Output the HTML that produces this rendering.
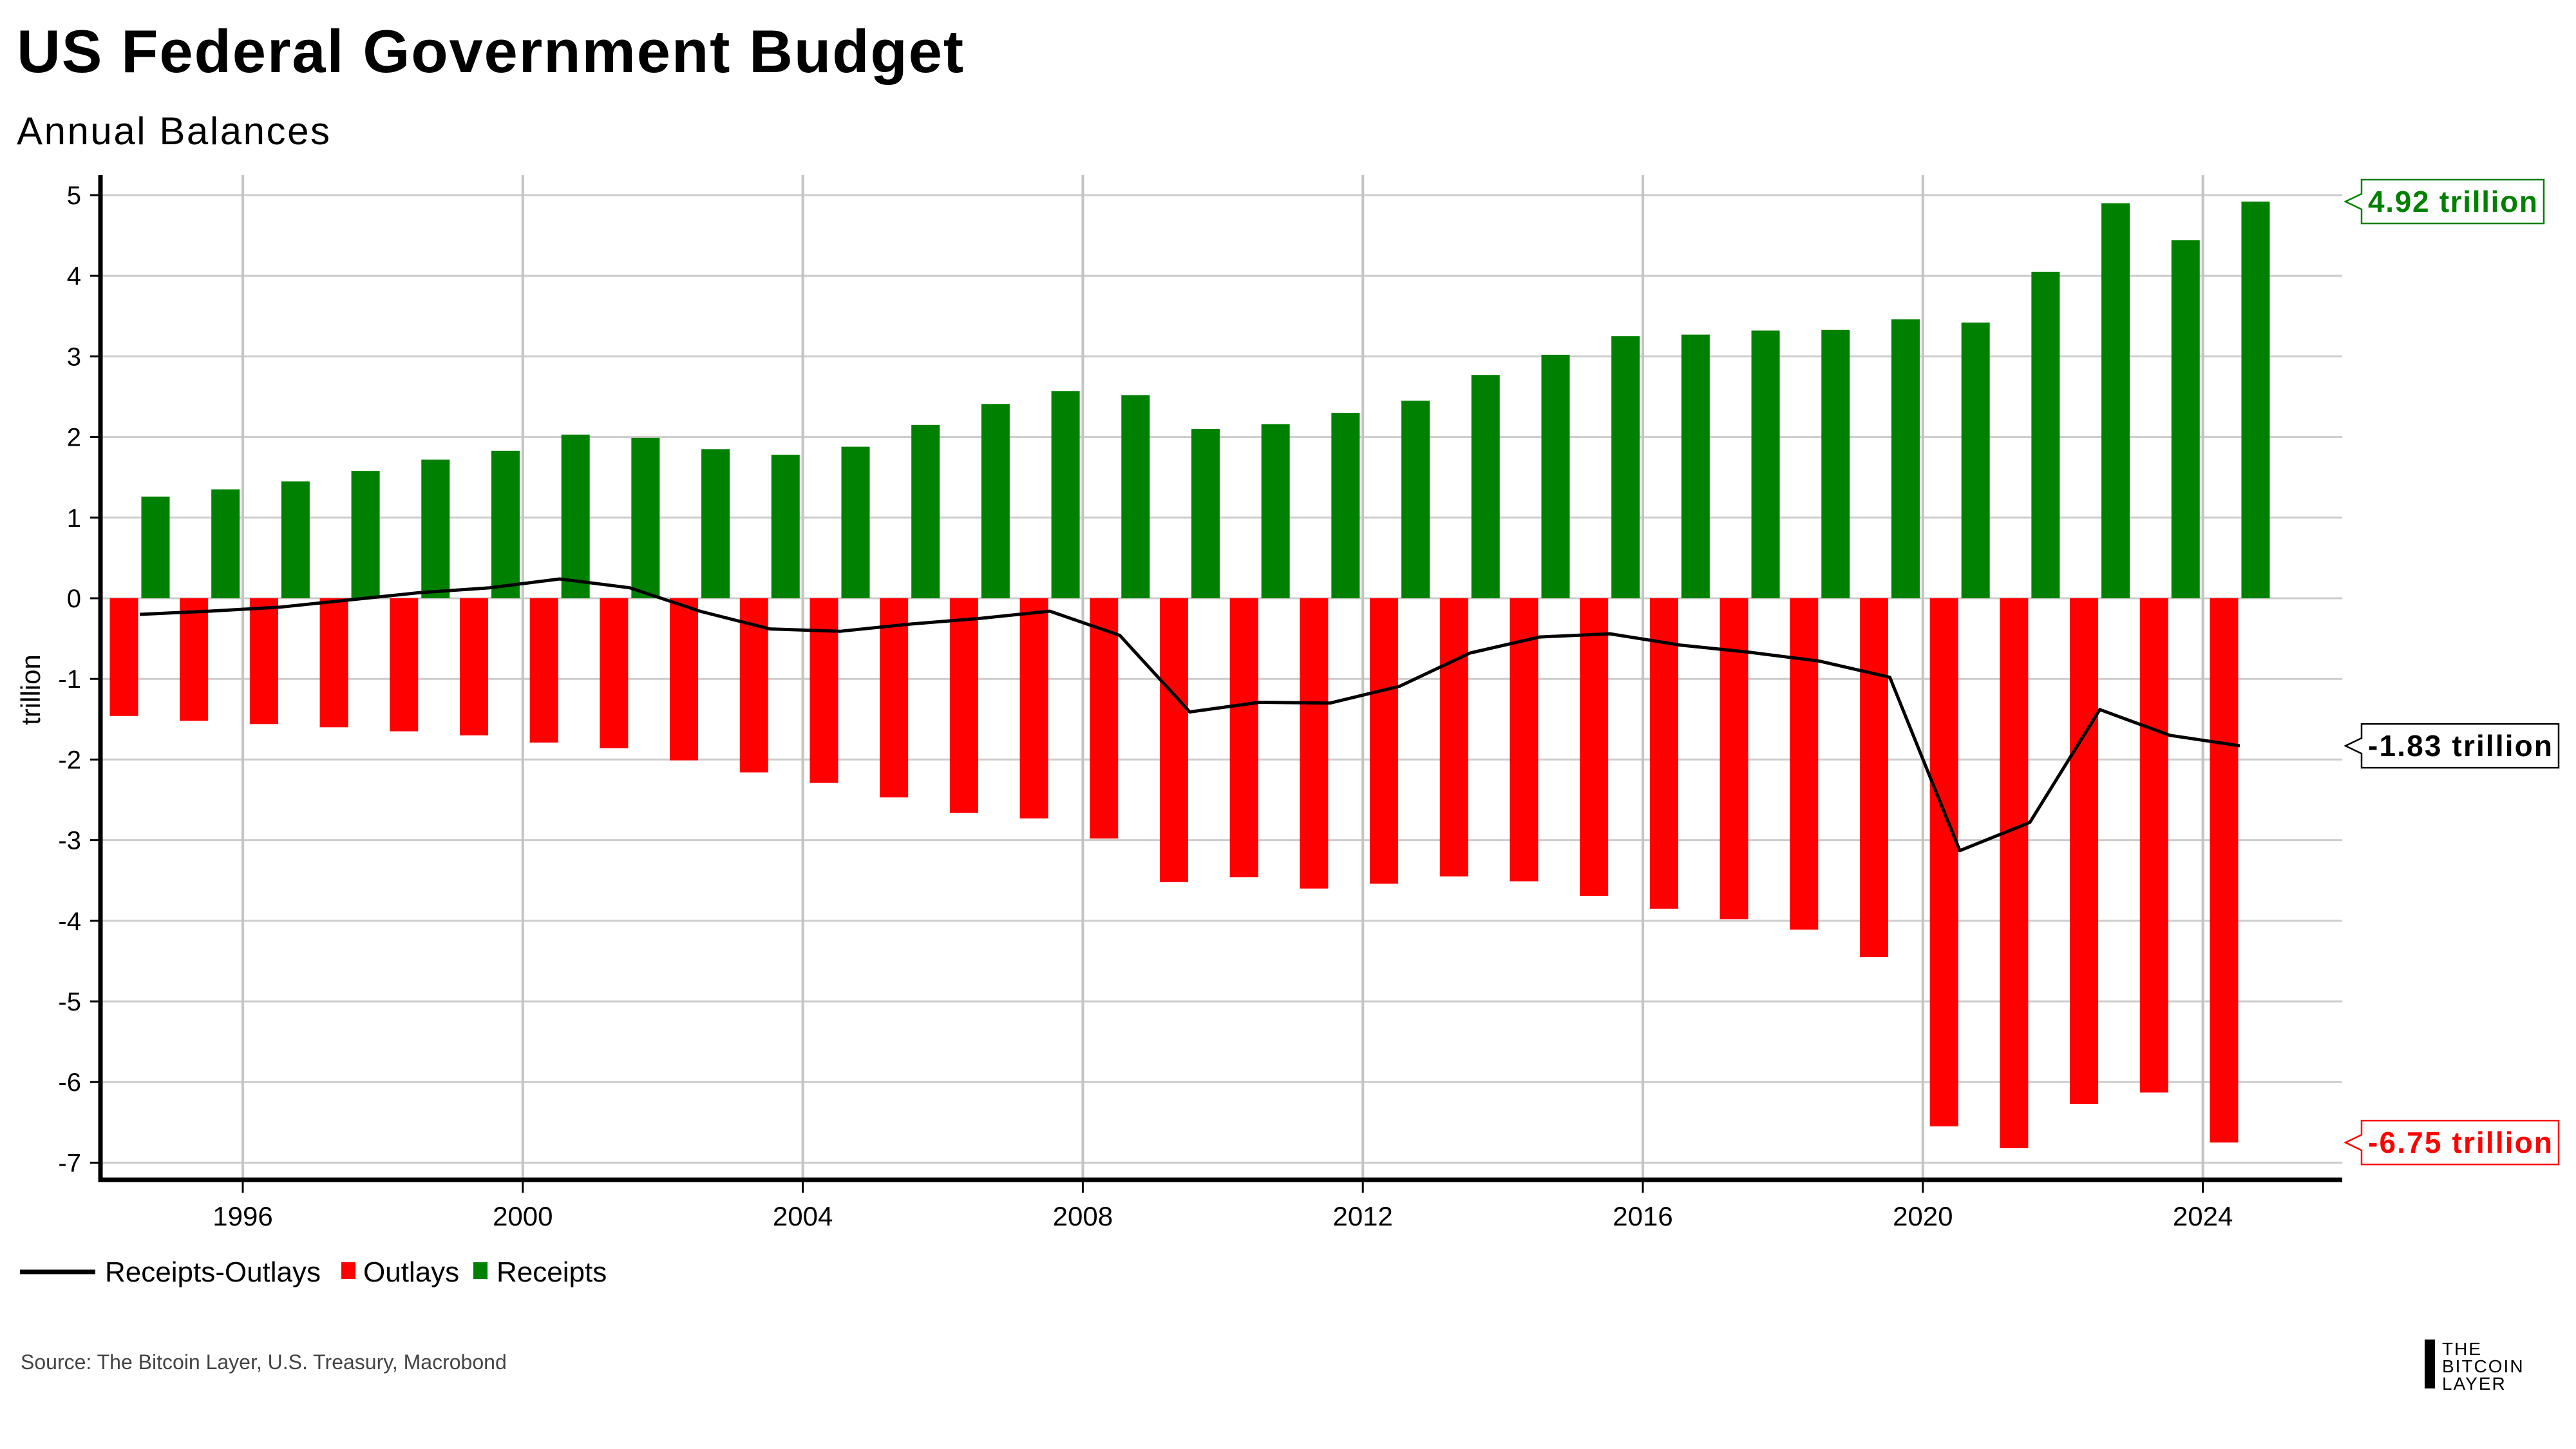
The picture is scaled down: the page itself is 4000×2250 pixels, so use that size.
<!DOCTYPE html>
<html><head><meta charset="utf-8"><style>
html,body{margin:0;padding:0;background:#fff;}
svg{display:block;font-family:"Liberation Sans",sans-serif;}
</style></head><body>
<svg id="chart" width="4000" height="2250" viewBox="0 0 4000 2250" xmlns="http://www.w3.org/2000/svg">
<rect width="4000" height="2250" fill="#fff"/>
<text x="26" y="112" font-size="94" font-weight="bold" fill="#000" textLength="1470" lengthAdjust="spacing">US Federal Government Budget</text>
<text x="26" y="224" font-size="60" fill="#000" textLength="486" lengthAdjust="spacing">Annual Balances</text>
<g id="grid"></g>
<g id="bars"></g>
<g id="line"></g>
<g id="axes"></g>
<text transform="translate(62,1071) rotate(-90)" text-anchor="middle" font-size="42" fill="#000">trillion</text>
<g id="callouts"></g>
<g>
  <line x1="31" y1="1975" x2="148" y2="1975" stroke="#000" stroke-width="7"/>
  <text x="163" y="1990" font-size="44" fill="#000">Receipts-Outlays</text>
  <rect x="530" y="1960" width="22" height="26" fill="#ff0000"/>
  <text x="564" y="1990" font-size="44" fill="#000">Outlays</text>
  <rect x="735" y="1960" width="22" height="26" fill="#008000"/>
  <text x="771" y="1990" font-size="44" fill="#000">Receipts</text>
</g>
<text x="32" y="2126" font-size="32" fill="#444">Source: The Bitcoin Layer, U.S. Treasury, Macrobond</text>
<g>
  <rect x="3765" y="2080" width="16" height="76" fill="#000"/>
  <text x="3792" y="2104" font-size="28" fill="#000" letter-spacing="2">THE</text>
  <text x="3792" y="2131" font-size="28" fill="#000" letter-spacing="2">BITCOIN</text>
  <text x="3792" y="2158" font-size="28" fill="#000" letter-spacing="2">LAYER</text>
</g>
</svg>
<script>
const years = [1994,1995,1996,1997,1998,1999,2000,2001,2002,2003,2004,2005,2006,2007,2008,2009,2010,2011,2012,2013,2014,2015,2016,2017,2018,2019,2020,2021,2022,2023,2024];
const receipts = [1.26,1.35,1.45,1.58,1.72,1.83,2.03,1.99,1.85,1.78,1.88,2.15,2.41,2.57,2.52,2.10,2.16,2.30,2.45,2.77,3.02,3.25,3.27,3.32,3.33,3.46,3.42,4.05,4.90,4.44,4.92];
const outlays = [-1.46,-1.52,-1.56,-1.60,-1.65,-1.70,-1.79,-1.86,-2.01,-2.16,-2.29,-2.47,-2.66,-2.73,-2.98,-3.52,-3.46,-3.60,-3.54,-3.45,-3.51,-3.69,-3.85,-3.98,-4.11,-4.45,-6.55,-6.82,-6.27,-6.13,-6.75];
const balance = [-0.20,-0.16,-0.11,-0.02,0.07,0.13,0.24,0.13,-0.16,-0.38,-0.41,-0.32,-0.25,-0.16,-0.46,-1.41,-1.29,-1.30,-1.09,-0.68,-0.48,-0.44,-0.58,-0.67,-0.78,-0.98,-3.13,-2.78,-1.38,-1.70,-1.83];
const yTicks = [5,4,3,2,1,0,-1,-2,-3,-4,-5,-6,-7];
const xTicks = [1996,2000,2004,2008,2012,2016,2020,2024];

const NS = "http://www.w3.org/2000/svg";
const L = 156, R = 3637, T = 272, B = 1832;
function xs(yr){ return 377 + (yr - 1996) * 108.7; }
function ys(v){ return 929 - v * 125.2; }
function mk(tag, attrs, parent){
  const e = document.createElementNS(NS, tag);
  for (const k in attrs) e.setAttribute(k, attrs[k]);
  parent.appendChild(e); return e;
}
const grid = document.getElementById('grid');
const bars = document.getElementById('bars');
const axes = document.getElementById('axes');
const lineG = document.getElementById('line');
const call = document.getElementById('callouts');

yTicks.forEach(v => {
  const g = mk('line', {x1:L, x2:R, y1:ys(v), y2:ys(v), stroke:'#cccccc', 'stroke-width':3}, grid);
  
  
  const t = mk('line', {x1:L-16, x2:L, y1:ys(v), y2:ys(v), stroke:'#000', 'stroke-width':3}, axes);
  
  
  const lb = mk('text', {x:L-30, y:ys(v)+14, 'text-anchor':'end', 'font-size':40, fill:'#000'}, axes);
  lb.textContent = String(v);
  
  
});
xTicks.forEach(yr => {
  const g = mk('line', {x1:xs(yr), x2:xs(yr), y1:T, y2:B, stroke:'#c4c4c4', 'stroke-width':4}, grid);
  
  
  const t = mk('line', {x1:xs(yr), x2:xs(yr), y1:B, y2:B+20, stroke:'#000', 'stroke-width':3}, axes);
  
  
  const lb = mk('text', {x:xs(yr), y:1903, 'text-anchor':'middle', 'font-size':42, fill:'#000'}, axes);
  lb.textContent = String(yr);
  
  
});

const pts = [];
years.forEach((yr, i) => {
  const x0 = xs(yr + 0.1);
  const bw = 44;
  const r = mk('rect', {x:x0, y:ys(0), width:bw, height:ys(outlays[i]) - ys(0), fill:'#ff0000'}, bars);
  
  
  const g = mk('rect', {x:x0 + 49, y:ys(receipts[i]), width:bw, height:ys(0) - ys(receipts[i]), fill:'#008000'}, bars);
  
  
  pts.push((x0 + 46.5).toFixed(1) + ',' + ys(balance[i]).toFixed(1));
});
const pl = mk('polyline', {points:pts.join(' '), fill:'none', stroke:'#000', 'stroke-width':5, 'stroke-linejoin':'round'}, lineG);



const ax1 = mk('line', {x1:L, x2:L, y1:T, y2:B+3, stroke:'#000', 'stroke-width':7}, axes);


const ax2 = mk('line', {x1:L-3, x2:R, y1:B, y2:B, stroke:'#000', 'stroke-width':7}, axes);



const last = years.length - 1;
const labels = [
  {v: receipts[last], color:'#008000', name:'callout-receipts'},
  {v: balance[last], color:'#000000', name:'callout-balance'},
  {v: outlays[last], color:'#ff0000', name:'callout-outlays'}
];
labels.forEach(c => {
  const cy = ys(c.v);
  const txt = c.v.toFixed(2) + ' trillion';
  const w = c.v < 0 ? 306 : 283;
  const x = 3667, h = 68;
  const p = mk('path', {d:`M3642 ${cy} L${x} ${cy-12} L${x} ${cy-h/2} L${x+w} ${cy-h/2} L${x+w} ${cy+h/2} L${x} ${cy+h/2} L${x} ${cy+12} Z`, fill:'#fff', stroke:c.color, 'stroke-width':2.5}, call);
  
  
  const t = mk('text', {x:x+10, y:cy+16, 'font-size':46, 'font-weight':'bold', fill:c.color, textLength:w-20, lengthAdjust:'spacing'}, call);
  t.textContent = txt;
  
  
});
</script>
</body></html>
